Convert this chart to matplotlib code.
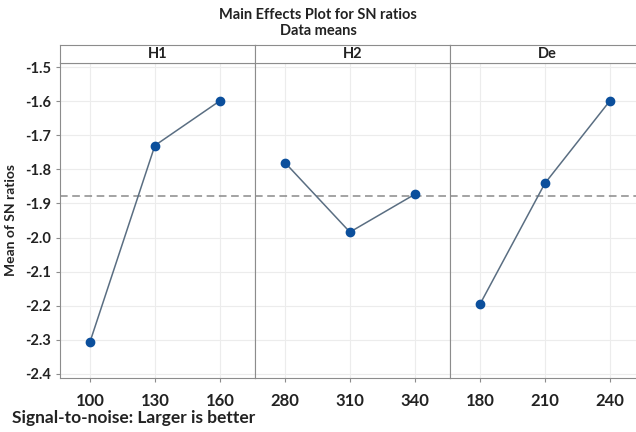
import numpy as np
import matplotlib.pyplot as plt

factors = ['H1', 'H2', 'De']
levels = {'H1': [100, 130, 160], 'H2': [280, 310, 340], 'De': [180, 210, 240]}
sn_means = {'H1': [-2.307, -1.730, -1.599],
            'H2': [-1.780, -1.984, -1.873],
            'De': [-2.196, -1.841, -1.599]}
yticks = [-1.5, -1.6, -1.7, -1.8, -1.9, -2.0, -2.1, -2.2, -2.3, -2.4]

grand_mean = np.mean([v for f in factors for v in sn_means[f]])

plt.rcParams['font.family'] = ['Lato', 'DejaVu Sans']
fig = plt.figure(figsize=(6.36, 4.32), dpi=100)

# the rightmost panel runs slightly past the picture edge, as in the original
left, right = 60 / 636, 645 / 636
bottom, top = 1 - 378 / 432, 1 - 63 / 432
strip_h = 18 / 432
w = (right - left) / 3
edge = '#8c8c8c'

for i, f in enumerate(factors):
    ax = fig.add_axes([left + i * w, bottom, w, top - bottom])
    x = levels[f]
    ax.plot(x, sn_means[f], color='#5a6e82', lw=1.1, zorder=3)
    ax.plot(x, sn_means[f], 'o', color='#0b4f9c', ms=6, zorder=4)
    ax.axhline(grand_mean, color='#8a8a8a', ls=(0, (5, 3)), lw=1.1, zorder=2)
    step = x[1] - x[0]
    ax.set_xlim(x[0] - 0.46 * step, x[-1] + 0.54 * step)
    ax.set_ylim(-2.412, -1.488)
    ax.set_xticks(x)
    ax.set_xticklabels([str(v) for v in x], fontsize=12, fontweight='bold', color='#222222')
    ax.set_yticks(yticks)
    ax.grid(True, color='#ececec', lw=0.8, zorder=0)
    for s in ax.spines.values():
        s.set_color(edge)
    ax.tick_params(axis='x', length=3, color=edge, pad=8)
    if i == 0:
        ax.set_yticklabels([f'{v:.1f}' for v in yticks], fontsize=10.5,
                           fontweight='bold', color='#222222')
        ax.tick_params(axis='y', length=3, color=edge)
        ax.set_ylabel('Mean of SN ratios', fontsize=10, fontweight='bold',
                      color='#222222', labelpad=6)
    else:
        ax.tick_params(axis='y', left=False, labelleft=False)
    # strip header
    sax = fig.add_axes([left + i * w, top, w, strip_h])
    sax.set_xticks([])
    sax.set_yticks([])
    for s in sax.spines.values():
        s.set_color(edge)
    sax.text(0.5, 0.5, f, ha='center', va='center', fontsize=10.5,
             fontweight='bold', color='#222222', transform=sax.transAxes)

fig.text(0.5, 1 - 15 / 432, 'Main Effects Plot for SN ratios', ha='center',
         va='center', fontsize=10.5, fontweight='bold', color='#222222')
fig.text(0.5, 1 - 31 / 432, 'Data means', ha='center', va='center',
         fontsize=10.5, fontweight='bold', color='#222222')
fig.text(12 / 636, 1 - 418 / 432, 'Signal-to-noise: Larger is better',
         ha='left', va='center', fontsize=12.5, fontweight='bold', color='#222222')

fig.savefig('out.png', dpi=100)
